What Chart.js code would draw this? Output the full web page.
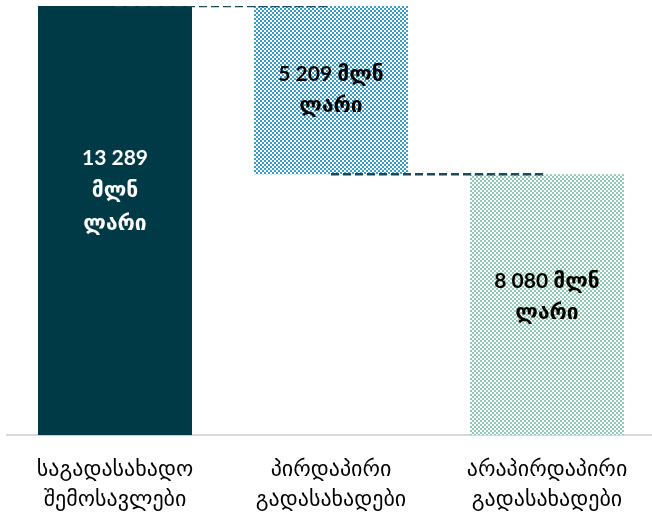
<!DOCTYPE html>
<html>
<head>
<meta charset="utf-8">
<script src="https://cdn.jsdelivr.net/npm/chart.js@4"></script>
<style>
html,body{margin:0;padding:0;background:#fff;overflow:hidden;}
#wrap{width:652px;height:517px;overflow:hidden;}
</style>
</head>
<body>
<div id="wrap"><canvas id="c" width="655" height="517"></canvas></div>
<script>
const categories = [["საგადასახადო","შემოსავლები"],["პირდაპირი","გადასახადები"],["არაპირდაპირი","გადასახადები"]];
const values = [13289, 5209, 8080];
const valueLabels = [["13 289","მლნ","ლარი"],["5 209 მლნ","ლარი"],["8 080 მლნ","ლარი"]];

function checker(color){
  const c = document.createElement('canvas');
  c.width = 4; c.height = 4;
  const g = c.getContext('2d');
  g.fillStyle = '#ffffff'; g.fillRect(0,0,4,4);
  g.fillStyle = color; g.fillRect(0,0,2,2); g.fillRect(2,2,2,2);
  return g.createPattern(c,'repeat');
}
const ctx = document.getElementById('c').getContext('2d');
const fills = ['#013a47', checker('#3a9fc8'), checker('#8ecbb3')];

const floats = [[0, values[0]], [values[2], values[2] + values[1]], [0, values[2]]];

const labelPlugin = {
  id:'labels',
  afterDatasetsDraw(chart){
    const meta = chart.getDatasetMeta(2);
    const g = chart.ctx;
    g.save();
    g.font = 'bold 21px Lato, "DejaVu Sans", sans-serif';
    g.textAlign = 'center';
    g.textBaseline = 'middle';
    const offs = [-30, 0, -8];
    meta.data.forEach((el,i)=>{
      const lines = valueLabels[i];
      const cy = (el.y + el.base)/2 + offs[i];
      const lh = i===0 ? 32.5 : 31;
      g.fillStyle = i===0 ? '#ffffff' : '#000000';
      lines.forEach((t,j)=>{
        g.fillText(t, el.x, cy + (j - (lines.length-1)/2)*lh);
      });
    });
    g.restore();
  }
};

new Chart(ctx,{
  data:{
    labels: categories,
    datasets:[
      {type:'line', data:[values[0], values[0], null], borderColor:'#1c4a5a', borderWidth:2.5, borderDash:[8,4], pointRadius:0, order:0, spanGaps:false},
      {type:'line', data:[null, values[2], values[2]], borderColor:'#1c4a5a', borderWidth:2.5, borderDash:[8,4], pointRadius:0, order:0, spanGaps:false},
      {type:'bar', data:floats, backgroundColor:fills, borderWidth:0, categoryPercentage:1, barPercentage:0.713, order:1}
    ]
  },
  options:{
    responsive:false,
    animation:false,
    layout:{padding:{left:7,right:0,top:6,bottom:-18}},
    plugins:{legend:{display:false},tooltip:{enabled:false}},
    scales:{
      x:{
        grid:{display:false, drawTicks:false},
        border:{display:true,color:'#d9d9d9',width:2},
        ticks:{color:'#000',font:{family:'"DejaVu Sans", sans-serif',size:22,lineHeight:1.36},padding:20}
      },
      y:{display:false,min:0,max:values[0]}
    }
  },
  plugins:[labelPlugin]
});
</script>
</body>
</html>
